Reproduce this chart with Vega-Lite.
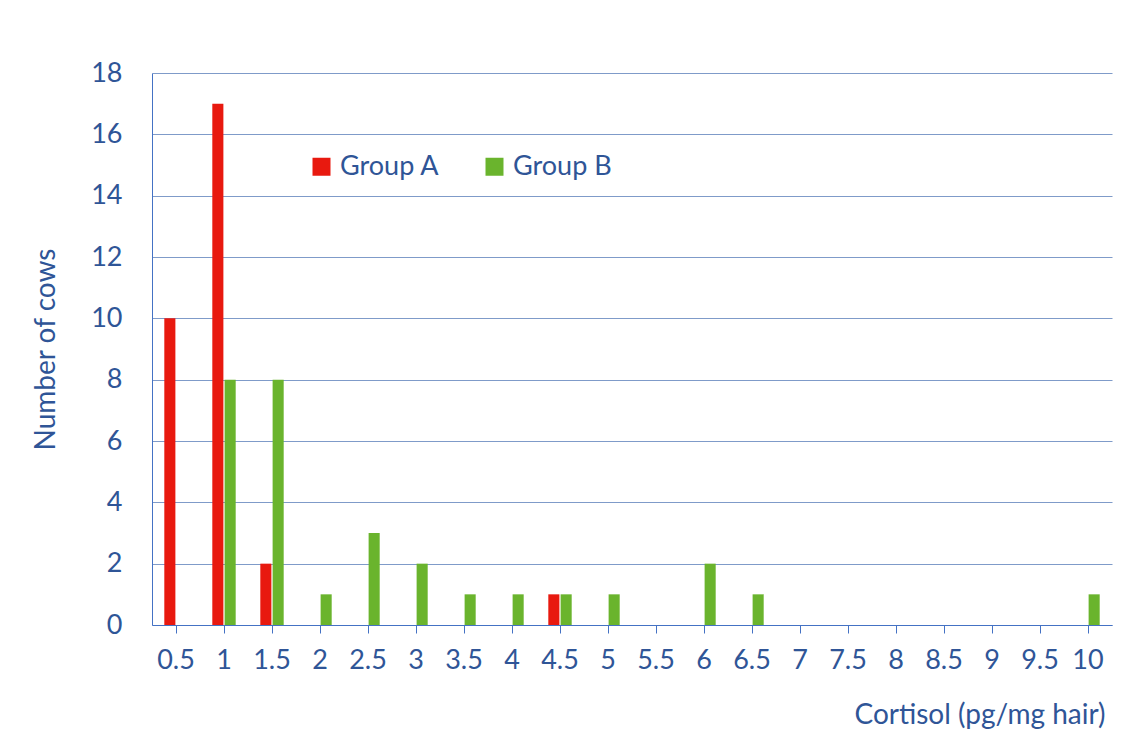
{
  "$schema": "https://vega.github.io/schema/vega-lite/v6.json",
  "width": 960,
  "height": 552,
  "autosize": "none",
  "padding": {"left": 152, "top": 73, "right": 14, "bottom": 130},
  "background": "white",
  "config": {
    "font": "Lato",
    "view": {"stroke": null}
  },
  "data": {
    "values": [
      {"cortisol": "0.5", "group": "Group  A", "cows": 10},
      {"cortisol": "1", "group": "Group  A", "cows": 17},
      {"cortisol": "1.5", "group": "Group  A", "cows": 2},
      {"cortisol": "4.5", "group": "Group  A", "cows": 1},
      {"cortisol": "1", "group": "Group B", "cows": 8},
      {"cortisol": "1.5", "group": "Group B", "cows": 8},
      {"cortisol": "2", "group": "Group B", "cows": 1},
      {"cortisol": "2.5", "group": "Group B", "cows": 3},
      {"cortisol": "3", "group": "Group B", "cows": 2},
      {"cortisol": "3.5", "group": "Group B", "cows": 1},
      {"cortisol": "4", "group": "Group B", "cows": 1},
      {"cortisol": "4.5", "group": "Group B", "cows": 1},
      {"cortisol": "5", "group": "Group B", "cows": 1},
      {"cortisol": "6", "group": "Group B", "cows": 2},
      {"cortisol": "6.5", "group": "Group B", "cows": 1},
      {"cortisol": "10", "group": "Group B", "cows": 1}
    ]
  },
  "mark": {"type": "bar"},
  "encoding": {
    "x": {
      "field": "cortisol",
      "type": "ordinal",
      "scale": {
        "domain": ["0.5","1","1.5","2","2.5","3","3.5","4","4.5","5","5.5","6","6.5","7","7.5","8","8.5","9","9.5","10"],
        "paddingInner": 0,
        "paddingOuter": 0
      },
      "axis": {
        "title": "Cortisol (pg/mg hair)",
        "titleAnchor": "end",
        "titleX": 953,
        "titleAlign": "right",
        "titleFontSize": 28,
        "titleFontWeight": "normal",
        "titleColor": "#2F5597",
        "titlePadding": 28,
        "labelAngle": 0,
        "labelFontSize": 27,
        "labelColor": "#2F5597",
        "labelPadding": 14,
        "tickSize": 8,
        "tickColor": "#4472C4",
        "domainColor": "#4472C4",
        "grid": false
      }
    },
    "xOffset": {
      "field": "group",
      "type": "nominal",
      "scale": {"domain": ["Group  A", "Group B"], "paddingInner": 0.1, "paddingOuter": 1}
    },
    "y": {
      "field": "cows",
      "type": "quantitative",
      "scale": {"domain": [0, 18], "nice": false},
      "axis": {
        "title": "Number of cows",
        "titleFontSize": 28,
        "titleFontWeight": "normal",
        "titleColor": "#2F5597",
        "titlePadding": 30,
        "values": [0,2,4,6,8,10,12,14,16,18],
        "labelFontSize": 27,
        "labelColor": "#2F5597",
        "labelPadding": 30,
        "ticks": false,
        "domainColor": "#4472C4",
        "gridColor": "#7F9BC9",
        "gridOpacity": 1,
        "gridWidth": 1
      }
    },
    "color": {
      "field": "group",
      "type": "nominal",
      "scale": {"domain": ["Group  A", "Group B"], "range": ["#E8190F", "#6AB42D"]},
      "legend": {
        "title": null,
        "orient": "none",
        "direction": "horizontal",
        "legendX": 156,
        "legendY": 80,
        "padding": 0,
        "symbolType": "square",
        "symbolSize": 324,
        "symbolStrokeWidth": 0,
        "symbolOpacity": 1,
        "labelFontSize": 27,
        "labelColor": "#2F5597",
        "labelOffset": 5,
        "columnPadding": 34
      }
    }
  }
}
